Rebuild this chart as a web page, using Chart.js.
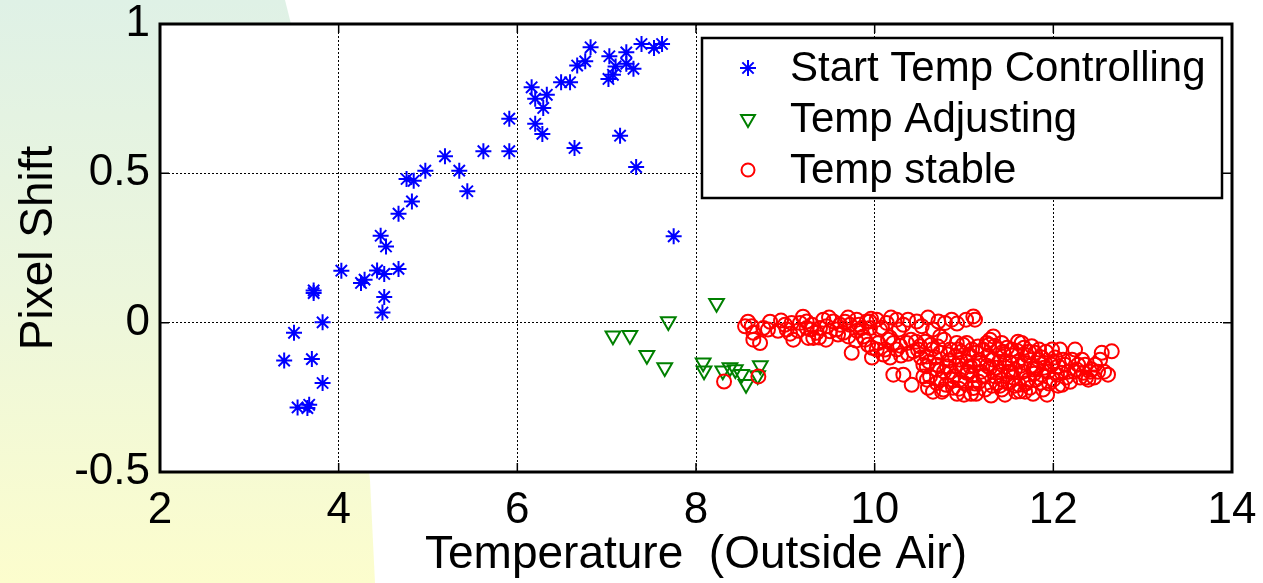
<!DOCTYPE html>
<html><head><meta charset="utf-8">
<script src="https://cdn.jsdelivr.net/npm/chart.js@4.4.1/dist/chart.umd.min.js"></script>
<style>
html,body{margin:0;padding:0;background:#fff;width:1263px;height:583px;overflow:hidden}
#bg{position:absolute;left:0;top:0;width:1263px;height:583px;background:linear-gradient(to bottom,#dff1e6 0%,#ecf6dc 50%,#fcfdcd 100%);clip-path:polygon(0 0,285px 0,310px 100px,333px 200px,350px 300px,362px 400px,370px 480px,375px 583px,0 583px)}
#c{position:absolute;left:0;top:0}
</style></head><body>
<div id="bg"></div>
<canvas id="c" width="1263" height="583"></canvas>
<script>
const seriesLabels = ['Start Temp Controlling', 'Temp Adjusting', 'Temp stable'];
const xTickValues = [2, 4, 6, 8, 10, 12, 14];
const xTickLabels = ['2', '4', '6', '8', '10', '12', '14'];
const yTickValues = [-0.5, 0, 0.5, 1];
const yTickLabels = ['-0.5', '0', '0.5', '1'];
const xTitle = 'Temperature  (Outside Air)';
const yTitle = 'Pixel Shift';

const startX = [7.39,6.82,7.03,7.22,6.76,6.67,7.10,7.22,7.30,7.07,7.02,6.49,6.59,6.16,6.33,6.20,6.29,5.91,6.20,6.28,7.15,6.64,5.91,5.62,7.33,5.19,4.97,5.35,4.76,4.84,5.44,4.82,4.67,4.47,4.53,4.03,4.25,4.29,4.43,4.51,4.67,3.72,3.72,4.51,4.49,3.82,3.50,3.39,3.70,3.82,3.54,3.67,3.65,7.53,7.62,7.75];
const startY = [0.933,0.922,0.892,0.905,0.875,0.861,0.858,0.867,0.850,0.830,0.816,0.805,0.805,0.788,0.763,0.750,0.719,0.683,0.666,0.632,0.626,0.585,0.574,0.574,0.521,0.557,0.509,0.509,0.481,0.475,0.440,0.406,0.365,0.291,0.255,0.174,0.133,0.144,0.175,0.163,0.180,0.108,0.099,0.086,0.034,0.001,-0.034,-0.127,-0.122,-0.202,-0.284,-0.275,-0.286,0.920,0.933,0.289];

const adjX = [8.23,7.69,7.07,7.26,7.45,7.65,8.08,8.09,8.30,8.38,8.44,8.51,8.56,8.72,8.69];
const adjY = [0.065,0.004,-0.044,-0.042,-0.109,-0.150,-0.134,-0.161,-0.161,-0.150,-0.157,-0.173,-0.206,-0.143,-0.177];

const stableX = [8.549,8.624,8.754,8.642,8.642,8.717,8.314,8.698,8.996,9.015,9.089,9.071,9.164,9.239,9.239,9.257,9.351,9.425,9.388,9.463,9.537,9.575,9.724,9.743,9.705,9.799,9.855,9.873,9.911,9.313,9.500,9.612,9.649,9.944,10.023,10.135,10.247,10.321,10.471,10.527,10.713,10.788,10.862,11.104,11.123,10.732,9.948,10.060,10.041,10.116,10.209,10.247,10.359,10.433,10.508,10.023,10.097,10.583,10.583,10.620,10.695,10.769,10.807,10.844,10.919,10.956,10.956,11.031,11.068,11.105,11.142,11.216,11.254,11.328,11.328,11.366,10.732,10.695,10.882,11.031,11.179,10.209,10.321,10.415,10.545,10.545,11.422,11.534,11.646,11.758,11.795,11.459,11.571,11.683,11.776,11.496,11.627,11.422,11.720,11.870,11.907,11.982,12.000,12.056,12.094,12.131,12.243,12.262,12.336,12.355,12.392,12.430,12.542,12.654,11.814,11.347,10.631,10.676,10.777,10.832,10.877,10.933,10.978,11.012,11.056,11.090,11.157,11.191,11.235,11.269,11.291,11.381,11.403,11.448,11.515,11.549,11.594,11.616,11.661,11.706,11.739,11.829,11.851,11.918,11.941,12.019,12.165,12.209,12.299,12.467,12.568,12.456,12.523,10.743,10.597,10.922,11.135,11.459,11.885,12.097,11.773,9.926,10.172,10.295,10.407,9.970,8.829,8.918,9.142,9.299,9.668,9.803,9.455,9.791,
  10.485,10.564,10.609,10.653,10.709,10.799,10.855,10.900,10.944,10.989,11.034,11.079,11.112,11.168,11.213,11.258,11.314,11.347,11.392,11.426,11.482,11.526,11.582,11.605,11.672,11.694,11.750,11.806,11.873,11.952,11.985,12.041,12.109,12.187,12.277,12.366,12.500,12.612,
  8.582,8.806,8.952,9.053,9.198,9.288,9.377,9.489,9.590,9.702,9.825,9.959,10.082,10.183,10.273,10.373,10.597,10.653,10.922,11.023,
  9.892,9.970,10.150,10.284,10.373,10.463,10.172,
  10.519,10.586,10.642,10.698,10.754,10.821,10.866,10.911,10.967,11.000,11.045,11.090,11.123,11.168,11.224,11.280,11.303,11.359,11.403,11.437,11.493,11.538,11.571,11.638,11.683,11.728,11.784,11.840,11.896,11.930,11.997,12.053,12.142,12.232,12.321,12.411,12.075,10.777,11.291,11.605];
const stableY = [-0.012,-0.012,-0.018,-0.034,-0.057,-0.068,-0.197,-0.180,-0.007,-0.023,-0.057,-0.001,-0.001,0.004,-0.018,-0.051,-0.034,0.010,-0.018,-0.012,0.004,-0.023,-0.007,-0.101,-0.046,0.010,-0.018,-0.046,0.004,-0.051,-0.029,-0.007,-0.034,0.004,0.010,-0.001,0.010,-0.007,0.004,-0.012,0.004,-0.001,0.010,0.021,0.010,-0.046,-0.018,-0.023,-0.068,-0.090,-0.068,-0.090,-0.068,-0.096,-0.079,-0.090,-0.107,-0.113,-0.146,-0.180,-0.202,-0.224,-0.146,-0.090,-0.068,-0.124,-0.191,-0.068,-0.146,-0.219,-0.101,-0.180,-0.068,-0.124,-0.046,-0.202,-0.101,-0.157,-0.180,-0.168,-0.135,-0.174,-0.174,-0.208,-0.180,-0.141,-0.068,-0.090,-0.068,-0.079,-0.101,-0.135,-0.157,-0.135,-0.157,-0.202,-0.230,-0.224,-0.191,-0.174,-0.135,-0.141,-0.191,-0.146,-0.168,-0.141,-0.090,-0.157,-0.168,-0.141,-0.191,-0.157,-0.101,-0.096,-0.152,-0.180,-0.074,-0.117,-0.164,-0.127,-0.218,-0.090,-0.157,-0.204,-0.107,-0.177,-0.080,-0.164,-0.224,-0.110,-0.151,-0.090,-0.164,-0.107,-0.134,-0.184,-0.094,-0.208,-0.164,-0.110,-0.218,-0.124,-0.201,-0.097,-0.164,-0.117,-0.164,-0.124,-0.184,-0.141,-0.164,-0.184,-0.124,-0.191,-0.218,-0.238,-0.238,-0.241,-0.224,-0.208,-0.238,-0.074,-0.050,-0.110,-0.057,-0.117,0.003,-0.027,-0.027,-0.007,0.003,-0.027,-0.057,-0.060,
  -0.090,-0.064,-0.131,-0.231,-0.080,-0.208,-0.164,-0.114,-0.221,-0.074,-0.131,-0.238,-0.144,-0.198,-0.090,-0.144,-0.211,-0.077,-0.131,-0.191,-0.084,-0.164,-0.231,-0.131,-0.084,-0.204,-0.144,-0.191,-0.117,-0.204,-0.090,-0.174,-0.124,-0.198,-0.141,-0.184,-0.164,-0.174,
  0.003,-0.023,0.007,-0.037,0.020,-0.023,-0.050,0.017,-0.040,0.017,-0.007,0.013,-0.017,0.017,-0.023,0.010,0.017,-0.023,-0.003,0.010,
  -0.057,-0.084,-0.057,-0.077,-0.104,-0.064,-0.117,
  -0.117,-0.191,-0.090,-0.141,-0.231,-0.107,-0.191,-0.144,-0.097,-0.241,-0.164,-0.090,-0.204,-0.124,-0.177,-0.074,-0.244,-0.151,-0.211,-0.097,-0.164,-0.110,-0.211,-0.144,-0.231,-0.097,-0.171,-0.090,-0.151,-0.241,-0.131,-0.211,-0.184,-0.164,-0.124,-0.164,-0.090,-0.057,-0.057,-0.064];

const toPts = (xs, ys) => xs.map((x, i) => ({x: x, y: ys[i]}));
const FONT = '"Liberation Sans", Arial, sans-serif';

function drawMarker(ctx, style, x, y, r, rot) {
  ctx.beginPath();
  if (style === 'star') {
    ctx.moveTo(x - r, y); ctx.lineTo(x + r, y);
    ctx.moveTo(x, y - r); ctx.lineTo(x, y + r);
    const d = r * Math.SQRT1_2;
    ctx.moveTo(x - d, y - d); ctx.lineTo(x + d, y + d);
    ctx.moveTo(x - d, y + d); ctx.lineTo(x + d, y - d);
  } else if (style === 'triangle') {
    let a = (rot || 0) * Math.PI / 180;
    ctx.moveTo(x + Math.sin(a) * r, y - Math.cos(a) * r);
    for (let k = 1; k < 3; k++) { a += 2 * Math.PI / 3; ctx.lineTo(x + Math.sin(a) * r, y - Math.cos(a) * r); }
    ctx.closePath();
  } else {
    ctx.arc(x, y, r, 0, Math.PI * 2);
  }
  ctx.stroke();
}

const decor = {
  id: 'decor',
  beforeDraw(chart) {
    const {ctx, chartArea: a} = chart;
    ctx.save(); ctx.fillStyle = '#fff';
    ctx.fillRect(a.left, a.top, a.right - a.left, a.bottom - a.top);
    ctx.restore();
  },
  afterDraw(chart) {
    const {ctx, chartArea: a, scales} = chart;
    ctx.save();
    ctx.strokeStyle = '#000'; ctx.lineWidth = 1.5;
    ctx.beginPath();
    xTickValues.forEach(v => {
      const px = scales.x.getPixelForValue(v);
      ctx.moveTo(px, a.bottom); ctx.lineTo(px, a.bottom - 9);
      ctx.moveTo(px, a.top); ctx.lineTo(px, a.top + 9);
    });
    yTickValues.forEach(v => {
      const py = scales.y.getPixelForValue(v);
      ctx.moveTo(a.left, py); ctx.lineTo(a.left + 9, py);
      ctx.moveTo(a.right, py); ctx.lineTo(a.right - 9, py);
    });
    ctx.stroke();
    ctx.lineWidth = 3;
    ctx.strokeRect(a.left, a.top, a.right - a.left, a.bottom - a.top);
    // legend
    const bx = a.right - 530, by = a.top + 14, bw = 520, bh = 160;
    ctx.fillStyle = '#fff'; ctx.fillRect(bx, by, bw, bh);
    ctx.lineWidth = 2.5; ctx.strokeRect(bx, by, bw, bh);
    chart.data.datasets.forEach((d, i) => {
      const yy = by + 30 + i * 51;
      ctx.strokeStyle = d.borderColor; ctx.lineWidth = 2;
      drawMarker(ctx, d.pointStyle, bx + 46, yy, d.pointStyle === 'circle' ? 6.5 : 8, d.pointRotation);
      ctx.fillStyle = '#000'; ctx.font = '42px ' + FONT;
      ctx.textBaseline = 'middle'; ctx.textAlign = 'left';
      ctx.fillText(d.label, bx + 88, yy + 1);
    });
    ctx.restore();
  }
};

new Chart(document.getElementById('c'), {
  type: 'scatter',
  data: {
    datasets: [
      {label: seriesLabels[0], data: toPts(startX, startY), pointStyle: 'star', pointRadius: 8, pointHoverRadius: 8, borderColor: '#0000ff', backgroundColor: 'rgba(0,0,0,0)', borderWidth: 2, order: 2},
      {label: seriesLabels[1], data: toPts(adjX, adjY), pointStyle: 'triangle', pointRotation: 180, pointRadius: 8.5, pointHoverRadius: 8.5, borderColor: '#008000', backgroundColor: 'rgba(0,0,0,0)', borderWidth: 2, order: 1},
      {label: seriesLabels[2], data: toPts(stableX, stableY), pointStyle: 'circle', pointRadius: 7, pointHoverRadius: 7, borderColor: '#ff0000', backgroundColor: 'rgba(0,0,0,0)', borderWidth: 2, order: 0}
    ]
  },
  options: {
    responsive: false,
    animation: false,
    devicePixelRatio: 1,
    layout: {padding: {top: 24, right: 31, left: 0, bottom: 0}},
    plugins: {legend: {display: false}, tooltip: {enabled: false}},
    scales: {
      x: {
        type: 'linear', min: 2, max: 14,
        afterBuildTicks: s => { s.ticks = xTickValues.map(v => ({value: v})); },
        afterFit: s => { s.height = 111; s.paddingLeft = 0; s.paddingRight = 0; },
        ticks: {color: '#000', font: {size: 44, family: FONT}, padding: 12, maxRotation: 0,
          callback: v => xTickLabels[xTickValues.indexOf(v)]},
        grid: {color: '#000', lineWidth: 1, drawTicks: false},
        border: {display: false, dash: [2, 2]},
        title: {display: true, text: xTitle, color: '#000', font: {size: 46, family: FONT}, padding: {top: 0, bottom: 0}}
      },
      y: {
        type: 'linear', min: -0.5, max: 1,
        afterBuildTicks: s => { s.ticks = yTickValues.map(v => ({value: v})); },
        afterFit: s => { s.width = 160; s.paddingTop = 0; s.paddingBottom = 0; },
        ticks: {color: '#000', font: {size: 44, family: FONT}, padding: 10,
          callback: v => yTickLabels[yTickValues.indexOf(v)]},
        grid: {color: '#000', lineWidth: 1, drawTicks: false},
        border: {display: false, dash: [2, 2]},
        title: {display: true, text: yTitle, color: '#000', font: {size: 46, family: FONT}, padding: {top: 12, bottom: 0}}
      }
    }
  },
  plugins: [decor]
});
</script></body></html>
